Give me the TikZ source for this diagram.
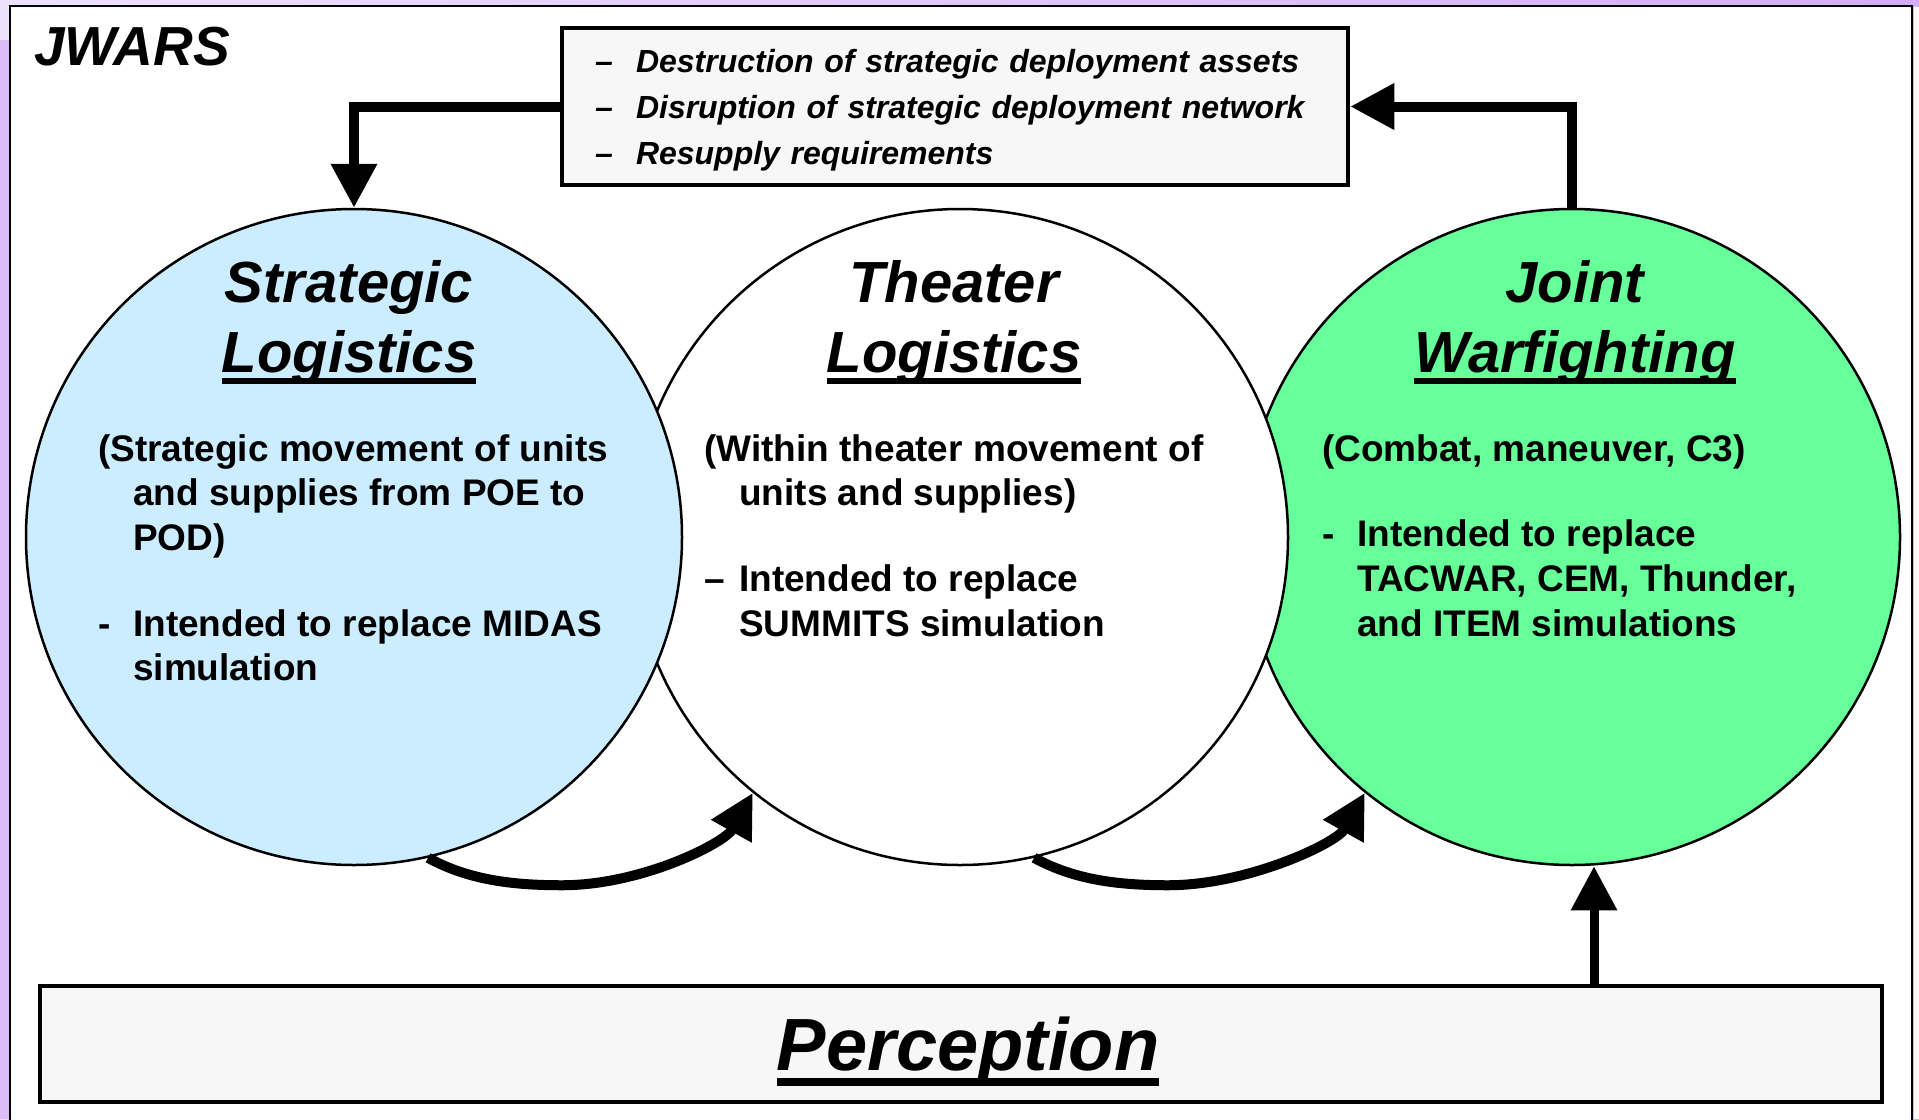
\documentclass[tikz,border=0pt]{standalone}
\usepackage{fontspec}
\setmainfont{Liberation Sans}
\usetikzlibrary{arrows.meta}

\definecolor{stratblue}{RGB}{204,236,255}
\definecolor{jointgreen}{RGB}{102,255,153}
\definecolor{boxgray}{RGB}{247,247,247}
\definecolor{bgpale}{RGB}{236,226,252}
\definecolor{bgpurple}{RGB}{212,172,246}

\newcommand{\ulword}[1]{\setbox0\hbox{#1}\rlap{\rule[-0.2em]{\wd0}{0.1em}}\box0}
\newcommand{\indentln}{\hspace*{35pt}}
\newcommand{\dashmark}[2][35pt]{\makebox[#1][l]{#2}}

\begin{document}
\begin{tikzpicture}[x=1pt,y=-1pt,
    circ/.style={circle,draw,line width=2.5pt,minimum size=656pt,inner sep=0pt},
    infobox/.style={draw,line width=4.5pt,fill=boxgray,inner sep=0pt},
    titletxt/.style={font=\fontsize{58}{70}\selectfont\bfseries\itshape,align=center,anchor=north,inner sep=0pt},
    bodytxt/.style={font=\fontsize{37}{44.7}\selectfont\bfseries,align=left,anchor=north west,inner sep=0pt},
    bigarrow/.style={line width=10pt,-{Triangle[length=44pt,width=44pt]}}]

    % background and frame
    \useasboundingbox (0,0) rectangle (1919,1119);
    \shade[left color=bgpale,right color=bgpurple] (0,0) rectangle (1919,1119);
    \fill[bgpurple!80!white] (0,40) rectangle (10,1119);
    \draw[line width=2pt,fill=white] (10,6) rectangle (1912,1125);
    \fill[white] (1913.5,7) rectangle (1919,1119);

    \node[anchor=base west,inner sep=0pt,font=\fontsize{55}{60}\selectfont\bfseries\itshape] (jwars) at (34,65) {JWARS};

    % the three circles
    \node[circ,fill=jointgreen] (joint)   at (1572,537) {};
    \node[circ,fill=white]      (theater) at (960,537)  {};
    \node[circ,fill=stratblue]  (strat)   at (354,537)  {};

    \node[titletxt] (strattitle)   at (349,260)  {Strategic\\\ulword{Logistics}};
    \node[titletxt] (theatertitle) at (954,260)  {Theater\\\ulword{Logistics}};
    \node[titletxt] (jointtitle)   at (1575,260) {Joint\\\ulword{Warfighting}};

    \node[bodytxt] (stratbody) at (98,434) {(Strategic movement of units\\
        \indentln and supplies from POE to\\
        \indentln POD)\\[41pt]
        \dashmark{-}Intended to replace MIDAS\\
        \indentln simulation};
    \node[bodytxt] (theaterbody) at (704,434) {(Within theater movement of\\
        \indentln units and supplies)\\[41pt]
        \dashmark{–}Intended to replace\\
        \indentln SUMMITS simulation};
    \node[bodytxt] (jointbody) at (1322,434) {(Combat, maneuver, C3)\\[41pt]
        \dashmark{-}Intended to replace\\
        \indentln TACWAR, CEM, Thunder,\\
        \indentln and ITEM simulations};

    % effects box and perception bar
    \node[infobox,inner xsep=33pt,text width=720pt,minimum height=157pt,align=left,
          font=\fontsize{32}{46}\selectfont\bfseries\itshape] (effects) at (955,106.5)
        {\rule{0pt}{31pt}\dashmark[41pt]{–}Destruction of strategic deployment assets\\
         \dashmark[41pt]{–}Disruption of strategic deployment network\\
         \dashmark[41pt]{–}Resupply requirements};
    \node[infobox,minimum width=1842pt,minimum height=116pt,text depth=0pt,
          font=\fontsize{74}{80}\selectfont\bfseries\itshape] (perc) at (961,1044)
        {\hspace*{14pt}\ulword{Perception}};

    % connectors
    \draw[bigarrow] (effects.west) -| (strat.north);
    \draw[bigarrow] (joint.north) |- (effects.east);
    \coordinate (feed) at ([xshift=22pt]joint.south);
    \draw[bigarrow,line width=9pt] (perc.north -| feed) -- (feed);
    \foreach \from/\to in {strat/theater,theater/joint}
        \draw[bigarrow] (\from.-77) .. controls +(40,22) and +(-50,0) .. ([shift={(208,19)}]\from.south)
            .. controls +(80,0) and +(-28,50) .. (\to.-129);
\end{tikzpicture}
\end{document}
